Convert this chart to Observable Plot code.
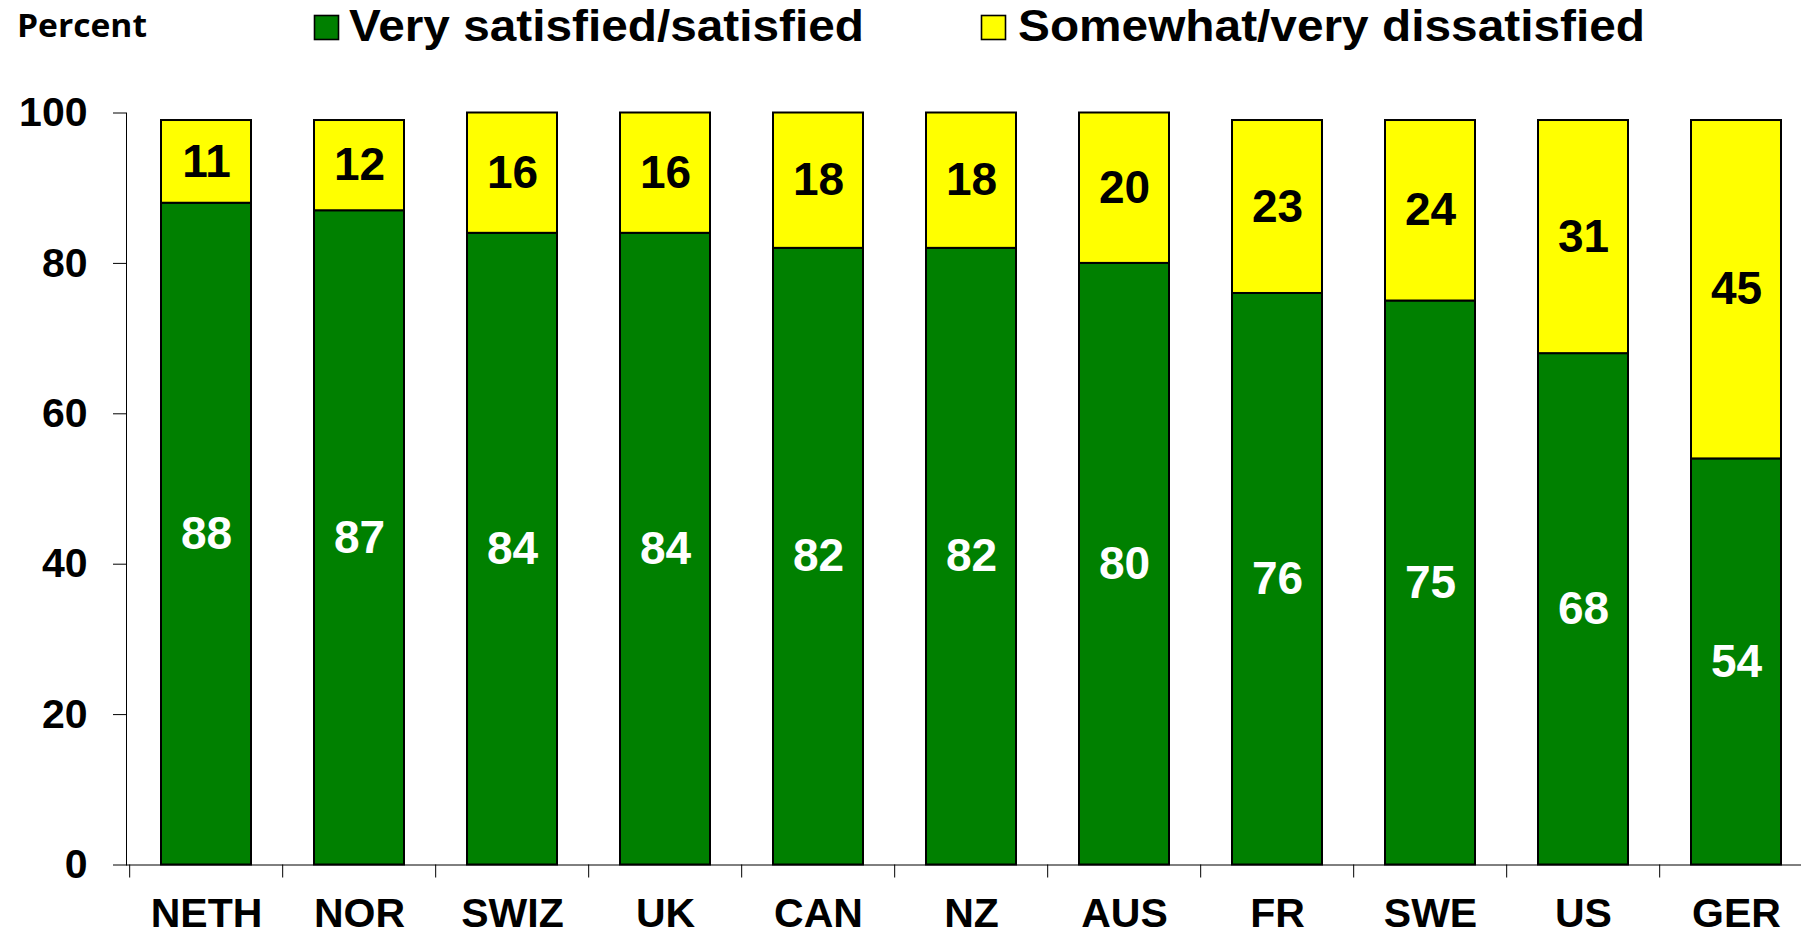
<!DOCTYPE html>
<html><head><meta charset="utf-8">
<script src="https://cdn.jsdelivr.net/npm/d3@7"></script>
<script src="https://cdn.jsdelivr.net/npm/@observablehq/plot@0.6"></script>
<style>
html,body{margin:0;padding:0;background:#fff;overflow:hidden;width:1801px;height:935px}
#legend,#chart{display:block}
svg{display:block;max-width:none !important}
</style></head><body>
<div id="legend"></div><div id="chart"></div>
<script>
const countries = ["NETH","NOR","SWIZ","UK","CAN","NZ","AUS","FR","SWE","US","GER"];
const satisfied = [88,87,84,84,82,82,80,76,75,68,54];
const dissatisfied = [11,12,16,16,18,18,20,23,24,31,45];
const seriesNames = ["Very satisfied/satisfied","Somewhat/very dissatisfied"];
const seriesColors = ["#008000","#FFFF00"];
const labelColors = ["#FFFFFF","#000000"];
const yTicks = [0,20,40,60,80,100];
const axisLabel = "Percent";

const rows = [];
seriesNames.forEach((s, si) => {
  const vals = si === 0 ? satisfied : dissatisfied;
  countries.forEach((c, i) => rows.push({country: c, series: s, value: vals[i]}));
});

// Legend / header (above the plot SVG)
const W = 1801, LH = 70;
const leg = d3.select("#legend").append("svg").attr("width", W).attr("height", LH);
leg.append("text").attr("x", 17).attr("y", 36.7)
  .attr("font-family", "'Open Sans', 'Noto Sans', sans-serif").attr("font-weight", 700)
  .attr("font-size", 33).attr("textLength", 130).attr("lengthAdjust", "spacingAndGlyphs")
  .text(axisLabel);
const legendLayout = [{x: 314.5, tx: 349, tl: 515}, {x: 981.5, tx: 1018, tl: 627}];
seriesNames.forEach((s, i) => {
  const L = legendLayout[i];
  leg.append("rect").attr("x", L.x).attr("y", 15.5).attr("width", 24).attr("height", 24)
    .attr("fill", seriesColors[i]).attr("stroke", "#000").attr("stroke-width", 1.6);
  leg.append("text").attr("x", L.tx).attr("y", 40.7)
    .attr("font-family", "'Liberation Sans', Arial, sans-serif").attr("font-weight", 700)
    .attr("font-size", 44).attr("textLength", L.tl).attr("lengthAdjust", "spacingAndGlyphs")
    .text(s);
});

// Plot
const H = 935 - LH;
const mL = 126, mT = 112.5 - LH, mB = H - (864.5 - LH);
const plotW = 1816; // original plot area runs past the right edge of the picture
const step = (plotW - mL) / countries.length;

const labelMark = (si) => Plot.text(rows, Plot.filter(d => d.series === seriesNames[si], Plot.stackY({
  x: "country", y: "value", z: "series", text: d => String(d.value),
  fill: labelColors[si], fontSize: 46, fontWeight: "bold"
})));

const chart = Plot.plot({
  width: plotW, height: H,
  marginLeft: mL, marginRight: 0, marginTop: mT, marginBottom: mB,
  style: {fontFamily: "'Liberation Sans', Arial, sans-serif", fontWeight: "bold", fontSize: "41px", color: "#000", background: "#fff", maxWidth: "none"},
  x: {domain: countries, paddingInner: 0.41, paddingOuter: 0.205, align: 0.5, label: null},
  y: {domain: [0, 100], label: null},
  color: {domain: seriesNames, range: seriesColors},
  marks: [
    Plot.barY(rows, {x: "country", y: "value", fill: "series", stroke: "#000", strokeWidth: 2}),
    labelMark(0),
    labelMark(1),
    Plot.frame({anchor: "left", stroke: "#000"}),
    Plot.frame({anchor: "bottom", stroke: "#000"}),
    Plot.axisY({ticks: yTicks, tickSize: 13, tickPadding: 26, tickFormat: d => String(d), stroke: "#000"}),
    Plot.axisX({tickSize: 0, tickPadding: 33}),
    Plot.ruleX(countries, {x: d => d, y1: 0, y2: 0, insetBottom: -13, dx: -step / 2, stroke: "#000"})
  ]
});
document.getElementById("chart").appendChild(chart);
</script>
</body></html>
